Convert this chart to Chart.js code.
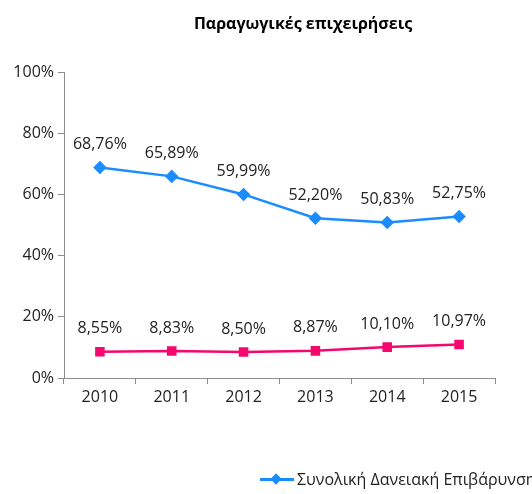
<!DOCTYPE html>
<html>
<head>
<meta charset="utf-8">
<script src="https://cdn.jsdelivr.net/npm/chart.js@4"></script>
<style>
  body { margin: 0; background: #fff; font-family: "Open Sans", sans-serif; }
  #wrap { position: relative; width: 532px; height: 494px; overflow: hidden; }
  #title { position: absolute; top: 12px; left: 303px; transform: translateX(-50%); font-size: 16px; font-weight: bold; color: #000; white-space: nowrap; line-height: 22px; }
  #legend { position: absolute; top: 468px; left: 260px; font-size: 16px; color: #222; white-space: nowrap; display: flex; align-items: center; line-height: 22px; }
  #legend .mk { position: relative; width: 34px; height: 10px; margin-right: 3px; }
  #legend .ln { position: absolute; left: 0; right: 0; top: 4px; height: 3px; background: #1a8cff; }
  #legend .dm { position: absolute; left: 12px; top: 1px; width: 8px; height: 8px; background: #1a8cff; transform: rotate(45deg); }
</style>
</head>
<body>
<div id="wrap">
  <canvas id="c" width="532" height="494"></canvas>
  <div id="title">Παραγωγικές επιχειρήσεις</div>
  <div id="legend"><span class="mk"><span class="ln"></span><span class="dm"></span></span>Συνολική Δανειακή Επιβάρυνση</div>
</div>
<script>
const years = ['2010', '2011', '2012', '2013', '2014', '2015'];
const totalBurden = [68.76, 65.89, 59.99, 52.20, 50.83, 52.75];
const secondSeries = [8.55, 8.83, 8.50, 8.87, 10.10, 10.97];
const yTicks = [0, 20, 40, 60, 80, 100];

const fontFamily = '"Open Sans", sans-serif';

// draws value labels above every point
const valueLabels = {
    id: 'valueLabels',
    afterDatasetsDraw(chart) {
        const ctx = chart.ctx;
        ctx.save();
        ctx.font = '16px ' + fontFamily;
        ctx.fillStyle = '#222';
        ctx.textAlign = 'center';
        ctx.textBaseline = 'middle';
        chart.data.datasets.forEach((ds, i) => {
            chart.getDatasetMeta(i).data.forEach((pt, j) => {
                const txt = ds.data[j].toFixed(2).replace('.', ',') + '%';
                ctx.fillText(txt, pt.x, pt.y - 23);
            });
        });
        ctx.restore();
    }
};

new Chart(document.getElementById('c'), {
    type: 'line',
    data: {
        labels: years,
        datasets: [{
            label: 'Συνολική Δανειακή Επιβάρυνση',
            data: totalBurden,
            borderColor: '#1a8cff',
            backgroundColor: '#1a8cff',
            borderWidth: 2.5,
            pointStyle: 'rectRot',
            pointRadius: 5,
            pointHoverRadius: 5,
            tension: 0
        }, {
            label: '',
            data: secondSeries,
            borderColor: '#f5086e',
            backgroundColor: '#f5086e',
            borderWidth: 2.5,
            pointStyle: 'rect',
            pointRadius: 5,
            pointHoverRadius: 5,
            tension: 0
        }]
    },
    options: {
        responsive: false,
        animation: false,
        layout: { padding: { top: 72, right: 37, bottom: 76, left: 0 } },
        plugins: { legend: { display: false }, title: { display: false }, tooltip: { enabled: false } },
        scales: {
            y: {
                min: 0, max: 100,
                afterFit: s => { s.width = 64; },
                afterBuildTicks: s => { s.ticks = yTicks.map(v => ({ value: v })); },
                border: { color: '#8c8c8c', width: 1 },
                grid: { display: true, drawOnChartArea: false, tickLength: 6, color: '#8c8c8c' },
                ticks: { color: '#222', font: { family: fontFamily, size: 16 }, padding: 4, callback: v => v + '%' }
            },
            x: {
                offset: true,
                afterFit: s => { s.height = 40; },
                border: { color: '#8c8c8c', width: 1 },
                grid: { display: true, offset: true, drawOnChartArea: false, tickLength: 6, color: '#8c8c8c' },
                ticks: { color: '#222', font: { family: fontFamily, size: 16 }, padding: 4 }
            }
        }
    },
    plugins: [valueLabels]
});
</script>
</body>
</html>
